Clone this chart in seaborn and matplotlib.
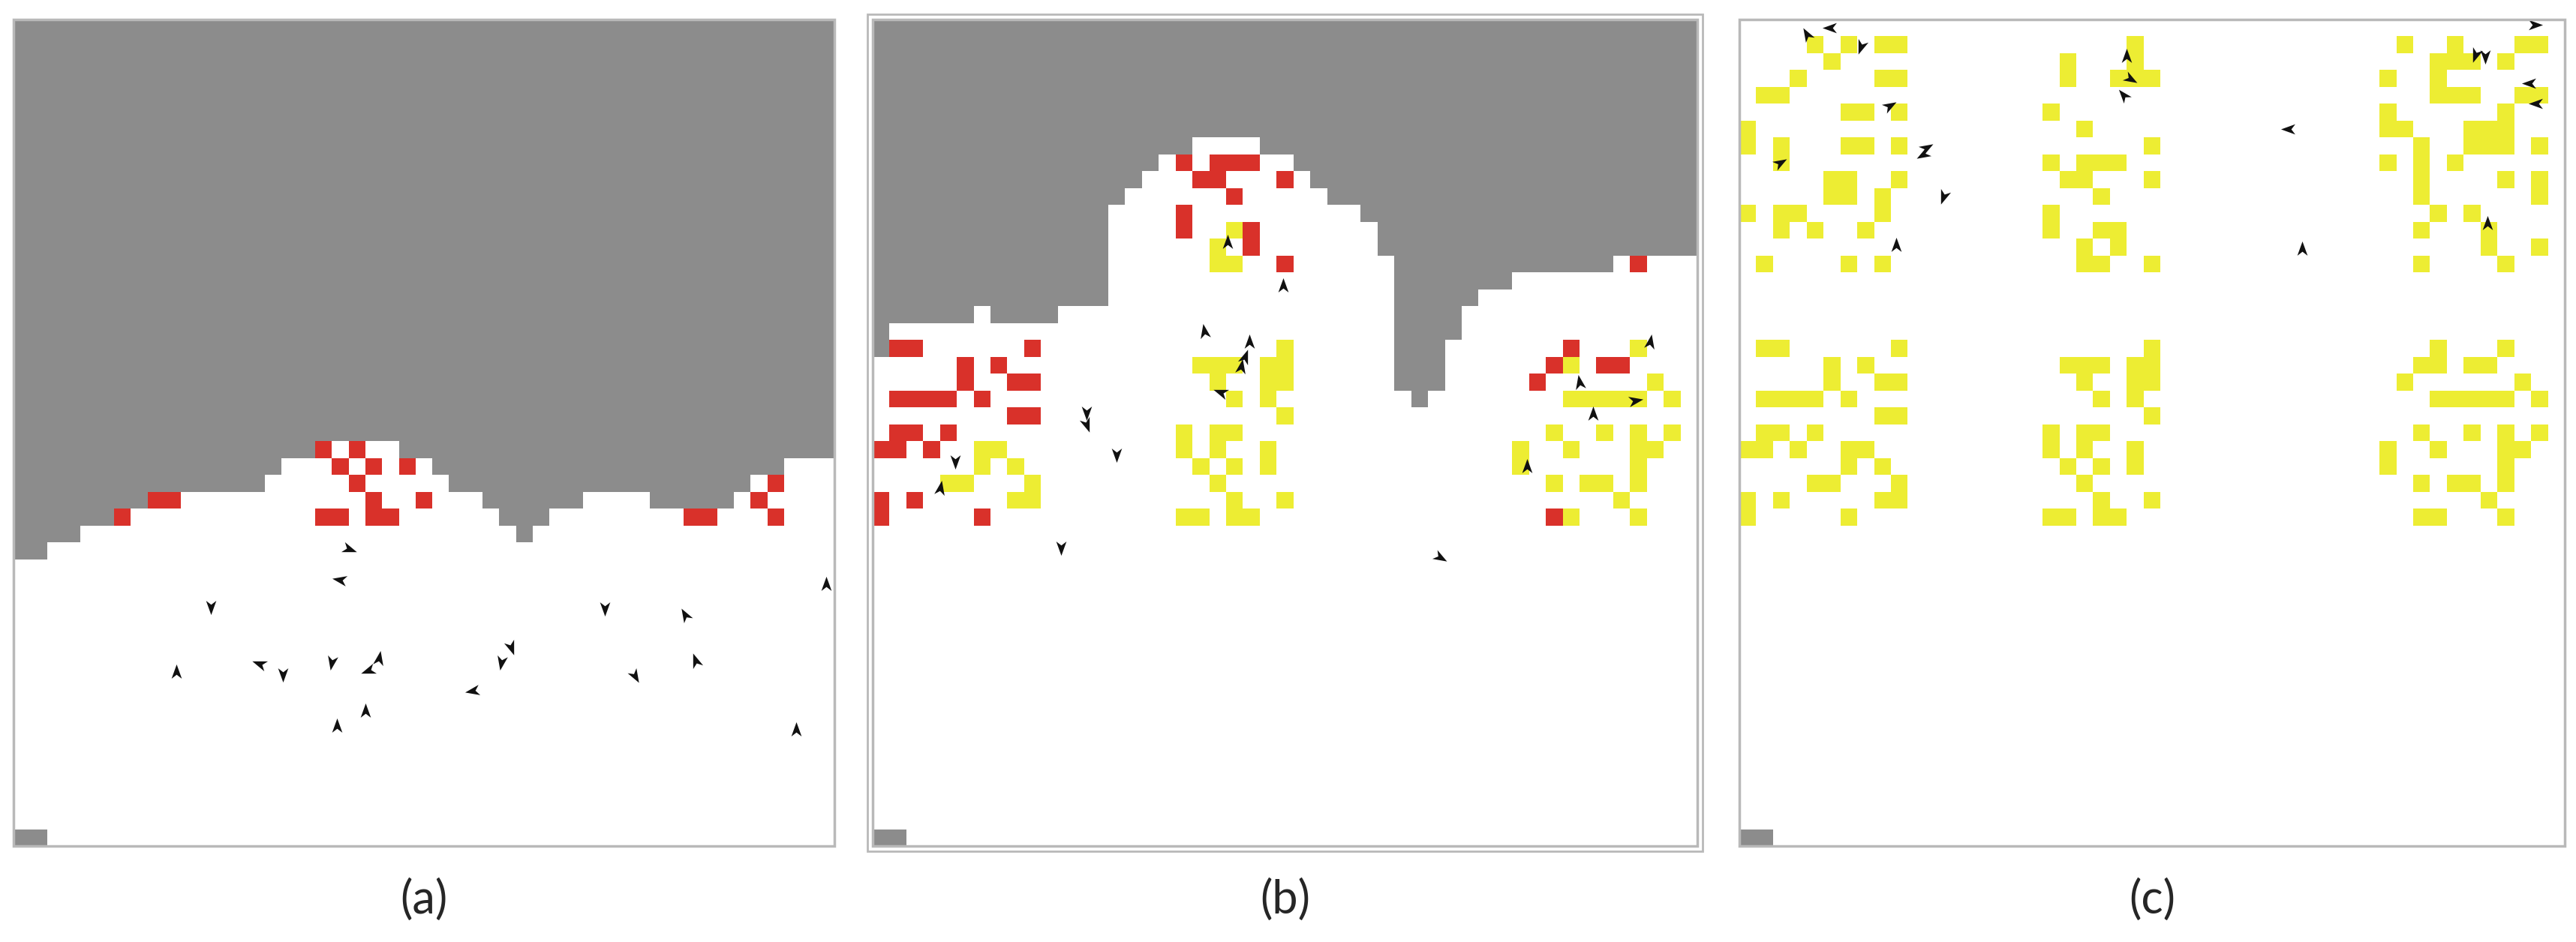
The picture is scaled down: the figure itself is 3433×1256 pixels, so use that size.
import numpy as np
import matplotlib
matplotlib.use("Agg")
import matplotlib.pyplot as plt
from matplotlib.colors import ListedColormap
from matplotlib.patches import Rectangle
import seaborn as sns

N = 49  # grid is 49 x 49 patches

# building cells (column indices) per row (c) where all are revealed
LAYOUT = {
    1: [4, 6, 8, 9, 23, 39, 42, 46, 47],
    2: [5, 19, 23, 41, 42, 43, 45],
    3: [3, 8, 9, 19, 22, 23, 24, 38, 41],
    4: [1, 2, 41, 42, 43, 46, 47],
    5: [6, 7, 9, 18, 38, 45],
    6: [0, 20, 38, 39, 43, 44, 45],
    7: [0, 2, 6, 7, 9, 24, 40, 43, 44, 45, 47],
    8: [2, 18, 20, 21, 22, 38, 40, 42],
    9: [5, 6, 9, 19, 20, 24, 40, 45, 47],
    10: [5, 6, 8, 21, 40, 47],
    11: [0, 2, 3, 8, 18, 41, 43],
    12: [2, 4, 7, 18, 21, 22, 40, 44],
    13: [20, 22, 44, 47],
    14: [1, 6, 8, 20, 21, 24, 40, 45],
    19: [1, 2, 9, 24, 41, 45],
    20: [5, 7, 19, 20, 21, 23, 24, 40, 41, 43, 44],
    21: [5, 8, 9, 20, 23, 24, 39, 46],
    22: [1, 2, 3, 4, 6, 21, 23, 41, 42, 43, 44, 45, 47],
    23: [8, 9, 24],
    24: [1, 2, 4, 18, 20, 21, 40, 43, 45, 47],
    25: [0, 1, 3, 6, 7, 18, 20, 23, 38, 41, 45, 46],
    26: [6, 8, 19, 21, 23, 38, 45],
    27: [4, 5, 9, 20, 40, 42, 43, 45],
    28: [0, 2, 8, 9, 21, 24, 44],
    29: [0, 6, 18, 19, 21, 22, 40, 41, 45],
}

# unexplored (grey) depth from the top, per column
DEPTH_A = [32, 32, 31, 31, 30, 30, 29, 29, 28, 28, 28, 28, 28, 28, 28, 27, 26, 26,
           25, 25, 25, 25, 25, 26, 26, 27, 28, 28, 29, 30, 31, 30, 29, 29, 28, 28,
           28, 28, 29, 29, 29, 29, 29, 28, 27, 27, 26, 26, 26]
DEPTH_B = [20, 18, 18, 18, 18, 18, 17, 18, 18, 18, 18, 17, 17, 17, 11, 10, 9, 8,
           8, 7, 7, 7, 7, 8, 8, 9, 10, 11, 11, 12, 14, 22, 23, 22, 19, 17, 16, 16,
           15, 15, 15, 15, 15, 15, 14, 14, 14, 14, 14]
DEPTH_C = [0] * N

# in panel (b) these found cells are red, the rest yellow
B_RED = [(18, 8), (20, 8), (21, 8), (22, 8), (19, 9), (20, 9), (24, 9), (21, 10),
         (18, 11), (18, 12), (22, 12), (22, 13), (24, 14), (45, 14),
         (1, 19), (2, 19), (9, 19), (5, 20), (7, 20), (5, 21), (8, 21), (9, 21),
         (1, 22), (2, 22), (3, 22), (4, 22), (6, 22), (8, 23), (9, 23),
         (1, 24), (2, 24), (4, 24), (0, 25), (1, 25), (3, 25),
         (0, 28), (2, 28), (0, 29), (6, 29),
         (41, 19), (40, 20), (43, 20), (44, 20), (39, 21), (40, 29)]

# agents: column, row, heading (deg, clockwise from up)
A_X = [20.0, 19.5, 11.8, 48.5, 35.3, 40.1, 29.7, 9.7, 14.7, 16.1, 19.0, 21.8,
       21.2, 29.1, 40.7, 37.1, 27.4, 21.0, 19.3, 46.7]
A_Y = [31.4, 33.2, 34.8, 33.5, 34.9, 35.3, 37.2, 38.7, 38.2, 38.8, 38.1, 37.9,
       38.6, 38.1, 38.0, 38.9, 39.8, 41.0, 41.9, 42.1]
A_H = [110, 280, 180, 0, 180, 330, 160, 0, 290, 180, 190, 10, 250, 190, 340, 150,
       260, 0, 0, 0]

B_X = [21.1, 24.4, 19.7, 22.4, 22.1, 21.9, 20.7, 12.7, 12.7, 14.5, 4.9, 4.0,
       11.2, 46.2, 42.0, 45.3, 42.8, 38.9, 33.7]
B_Y = [13.2, 15.8, 18.5, 19.1, 20.0, 20.6, 22.1, 23.3, 24.0, 25.8, 26.2, 27.8,
       31.3, 19.1, 21.5, 22.6, 23.4, 26.5, 31.9]
B_H = [0, 0, 350, 0, 20, 10, 290, 180, 160, 180, 180, 10, 180, 10, 350, 80, 0,
       0, 120]

C_X = [4.0, 5.4, 7.2, 8.9, 2.4, 11.1, 10.9, 12.1, 9.3, 23.0, 23.2, 22.8, 47.2,
       43.7, 44.3, 46.9, 47.3, 32.6, 44.4, 33.4]
C_Y = [0.9, 0.5, 1.6, 5.1, 8.5, 7.6, 8.0, 10.5, 13.4, 2.2, 3.5, 4.5, 0.3, 2.1,
       2.2, 3.8, 4.97, 6.5, 12.1, 13.6]
C_H = [330, 270, 200, 60, 60, 60, 240, 200, 0, 0, 120, 320, 90, 200, 180, 270,
       270, 270, 0, 0]

LABELS = ["(a)", "(b)", "(c)"]
# panel pixel bounds (left, right) on a 3433 x 1256 canvas
PANEL_X = [(18, 1112), (1163, 2262), (2318, 3418)]
PANEL_Y = (26, 1128)

WHITE, GREY, RED, YELLOW = "#ffffff", "#8c8c8c", "#d9312a", "#eded33"
FRAME = "#b9b9b9"


def build_grid(depth, red_cells, all_red):
    g = np.zeros((N, N), dtype=int)
    for c in range(N):
        g[:depth[c], c] = 1
    for r, cols in LAYOUT.items():
        for c in cols:
            if r >= depth[c]:
                if all_red or (c, r) in red_cells:
                    g[r, c] = 2
                else:
                    g[r, c] = 3
    g[48, 0:2] = 1
    return g


def arrow_marker(heading):
    # marker paths live in screen space, so "up" is +y regardless of axis flip
    v = np.array([(0, 1), (0.65, -0.8), (0, -0.3), (-0.65, -0.8), (0, 1)], float)
    t = np.deg2rad(-heading)
    rot = np.array([[np.cos(t), -np.sin(t)], [np.sin(t), np.cos(t)]])
    return v @ rot.T


sns.set_theme(style="white")
W, H = 3433, 1256
fig = plt.figure(figsize=(W / 100, H / 100), dpi=100)
cmap = ListedColormap([WHITE, GREY, RED, YELLOW])

panels = [
    (DEPTH_A, set(), True, A_X, A_Y, A_H),
    (DEPTH_B, set(B_RED), False, B_X, B_Y, B_H),
    (DEPTH_C, set(), False, C_X, C_Y, C_H),
]

for i, (depth, reds, all_red, xs, ys, hs) in enumerate(panels):
    x0, x1 = PANEL_X[i]
    ax = fig.add_axes([x0 / W, 1 - PANEL_Y[1] / H, (x1 - x0) / W,
                       (PANEL_Y[1] - PANEL_Y[0]) / H])
    grid = build_grid(depth, reds, all_red)
    sns.heatmap(grid, cmap=cmap, vmin=-0.5, vmax=3.5, cbar=False, ax=ax,
                xticklabels=False, yticklabels=False, square=False)
    for x, y, h in zip(xs, ys, hs):
        ax.scatter([x], [y], marker=arrow_marker(h), s=230, color="#111111",
                   linewidths=0, zorder=5)
    ax.set_xlim(0, N)
    ax.set_ylim(N, 0)
    ax.add_patch(Rectangle((0, 0), 1, 1, transform=ax.transAxes, fill=False,
                           edgecolor=FRAME, lw=2.5, clip_on=False, zorder=6))
    if i == 1:
        ax.add_patch(Rectangle((-0.006, -0.006), 1.012, 1.012,
                               transform=ax.transAxes, fill=False,
                               edgecolor=FRAME, lw=2, clip_on=False, zorder=6))
    fig.text((x0 + x1) / 2 / W, 1 - 1200 / H, LABELS[i], ha="center",
             va="center", fontsize=44, family=["Lato", "DejaVu Sans"])

fig.savefig("out.png", dpi=100)
